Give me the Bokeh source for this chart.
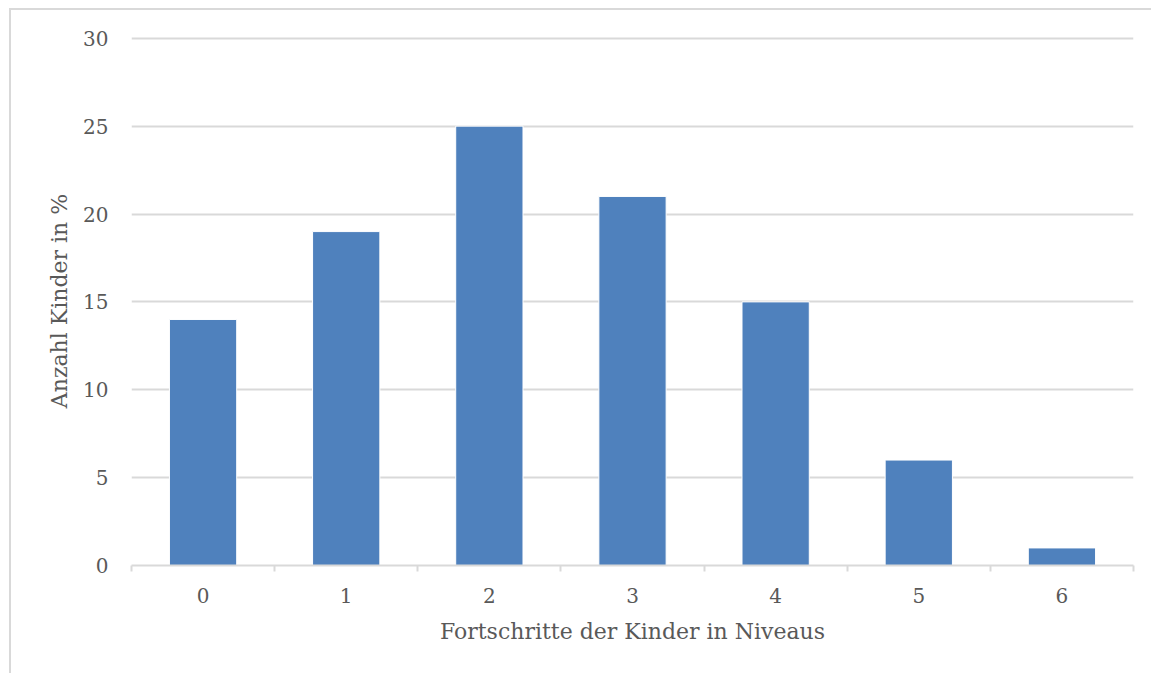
from bokeh.plotting import figure
from bokeh.models import FixedTicker, Range1d, ColumnDataSource
from bokeh.embed import file_html
from bokeh.resources import INLINE

# Fortschritte (Niveaus) und Anteil der Kinder in %
niveaus = [0, 1, 2, 3, 4, 5, 6]
anteil = [14, 19, 25, 21, 15, 6, 1]
y_ticks = [0, 5, 10, 15, 20, 25, 30]

FONT = "DejaVu Serif"
TEXT = "#595959"
GRID = "#d9d9d9"

src = ColumnDataSource(dict(x=niveaus, top=anteil))

p = figure(
    width=1142, height=665,
    x_range=Range1d(-0.5, 6.5), y_range=Range1d(0, 30.1),
    output_backend="svg", toolbar_location=None,
    min_border_left=120, min_border_right=20,
    min_border_top=26, min_border_bottom=110,
    margin=(8, 0, 0, 9),
    styles={"border-left": "2px solid #d9d9d9", "border-top": "2px solid #d9d9d9"},
)
p.outline_line_color = None
p.background_fill_color = "white"
p.border_fill_color = "white"

p.vbar(x="x", top="top", width=0.47, bottom=0, source=src,
       fill_color="#4f81bd", line_color="white", line_width=1)

# x axis: labels at the categories, tick marks between them
p.xaxis.ticker = FixedTicker(ticks=niveaus,
                             minor_ticks=[n - 0.5 for n in niveaus] + [6.5])
p.xaxis.major_tick_out = 0
p.xaxis.major_tick_in = 0
p.xaxis.minor_tick_out = 6
p.xaxis.minor_tick_in = 0
p.xaxis.minor_tick_line_color = GRID
p.xaxis.minor_tick_line_width = 2
p.xaxis.axis_line_color = GRID
p.xaxis.axis_line_width = 2
p.xaxis.axis_label = "Fortschritte der Kinder in Niveaus"
p.xaxis.major_label_standoff = 16
p.xaxis.axis_label_standoff = 13
p.xgrid.grid_line_color = None

# y axis: plain labels, horizontal grid lines
p.yaxis.ticker = FixedTicker(ticks=y_ticks)
p.yaxis.axis_line_color = None
p.yaxis.major_tick_line_color = None
p.yaxis.minor_tick_line_color = None
p.yaxis.major_label_standoff = 17
p.yaxis.axis_label = "Anzahl Kinder in %"
p.yaxis.axis_label_standoff = 8
p.ygrid.grid_line_color = GRID
p.ygrid.grid_line_width = 2

for ax in (p.xaxis, p.yaxis):
    ax.major_label_text_font = FONT
    ax.major_label_text_font_size = "20px"
    ax.major_label_text_color = TEXT
    ax.axis_label_text_font = FONT
    ax.axis_label_text_font_size = "22px"
    ax.axis_label_text_font_style = "normal"
    ax.axis_label_text_color = TEXT

open("out.html", "w").write(file_html(p, INLINE))
